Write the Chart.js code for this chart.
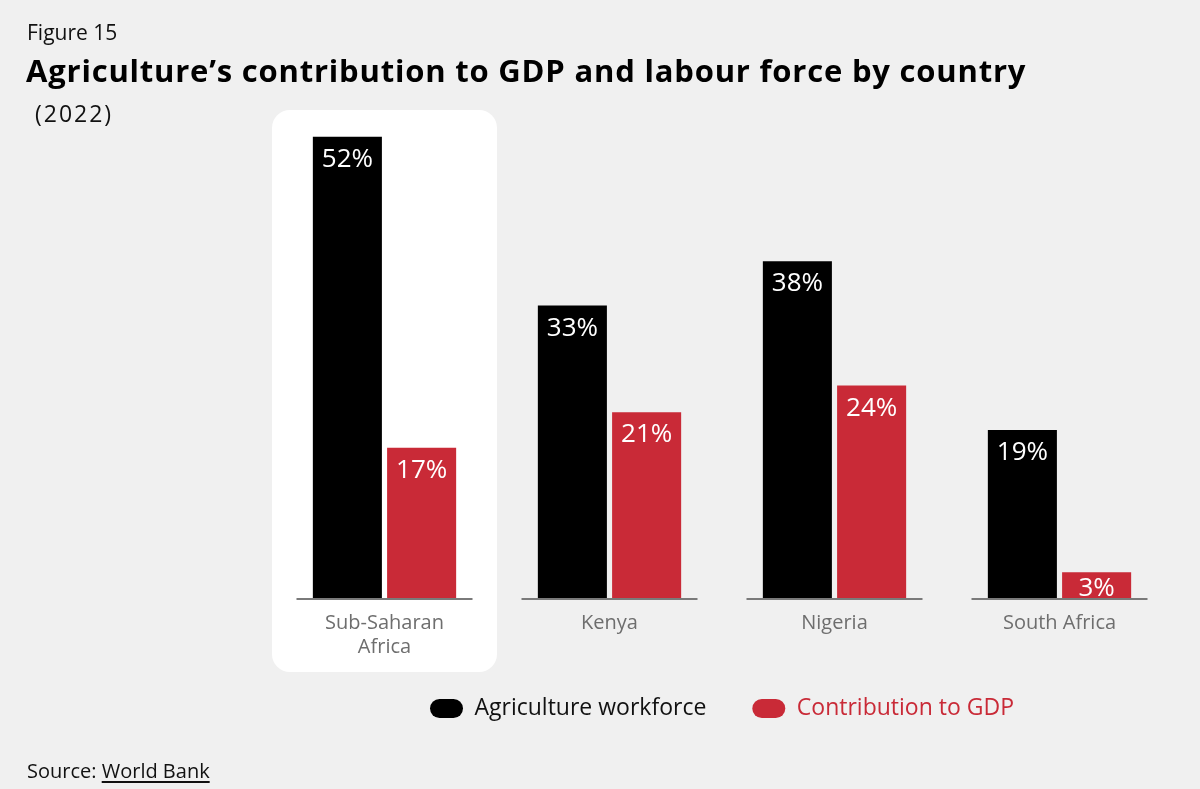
<!DOCTYPE html>
<html>
<head>
<meta charset="utf-8">
<script src="https://cdn.jsdelivr.net/npm/chart.js@4"></script>
<style>
  html, body { margin: 0; padding: 0; background: #f0f0f0; }
  body { width: 1200px; height: 789px; position: relative; overflow: hidden; font-family: "Open Sans", sans-serif; }
  #wrap { position: absolute; left: 0; top: 0; width: 1200px; height: 789px; }
  .fig { position: absolute; left: 27px; top: 18px; font-size: 21px; color: #111; }
  .title { position: absolute; left: 26px; top: 49px; font-size: 31px; font-weight: 700; color: #000; letter-spacing: 0.8px; }
  .sub { position: absolute; left: 27px; top: 97px; font-size: 23px; color: #111; letter-spacing: 2px; }
  .source { position: absolute; left: 27px; top: 757px; font-size: 20px; color: #111; }
  .source u { text-underline-offset: 3px; }
</style>
</head>
<body>
<div id="wrap"><canvas id="agriChart"></canvas></div>
<div class="fig">Figure 15</div>
<div class="title">Agriculture’s contribution to GDP and labour force by country</div>
<div class="sub">&nbsp;(2022)</div>
<div class="source">Source: <u>World Bank</u></div>
<script>
var countries = [['Sub-Saharan', 'Africa'], 'Kenya', 'Nigeria', 'South Africa'];
var workforce = [52, 33, 38, 19];
var gdpShare = [17, 21, 24, 3];
var seriesNames = ['Agriculture workforce', 'Contribution to GDP'];

var BLACK = '#000000';
var RED = '#c92a37';

// white rounded panel behind the first category
var highlightBox = {
    id: 'highlightBox',
    beforeDraw: function(chart) {
        var c = chart.ctx, x = chart.scales.x, area = chart.chartArea;
        var step = (area.right - area.left) / countries.length;
        var cx = x.getPixelForValue(0);
        var left = cx - step / 2, w = step, top = area.top, h = 672 - area.top, r = 18;
        c.save();
        c.fillStyle = '#ffffff';
        c.beginPath();
        c.roundRect(left, top, w, h, r);
        c.fill();
        c.restore();
    }
};

// let the two-line tick label run into the legend's top padding
var tickRoom = {
    id: 'tickRoom',
    afterLayout: function(chart) {
        var x = chart.scales.x;
        x.bottom = x.top + 80;
    }
};

// short baseline under each group
var baseSegments = {
    id: 'baseSegments',
    afterDatasetsDraw: function(chart) {
        var c = chart.ctx, x = chart.scales.x, y = chart.scales.y;
        var base = y.getPixelForValue(0);
        c.save();
        c.strokeStyle = '#7a7a7a';
        c.lineWidth = 2;
        for (var i = 0; i < countries.length; i++) {
            var cx = x.getPixelForValue(i);
            c.beginPath();
            c.moveTo(cx - 88, base);
            c.lineTo(cx + 88, base);
            c.stroke();
        }
        c.restore();
    }
};

// value labels inside the top of the bars
var valueLabels = {
    id: 'valueLabels',
    afterDatasetsDraw: function(chart) {
        var c = chart.ctx;
        var base = chart.scales.y.getPixelForValue(0);
        c.save();
        c.fillStyle = '#ffffff';
        c.font = '500 26px "Open Sans"';
        c.textAlign = 'center';
        c.textBaseline = 'alphabetic';
        chart.data.datasets.forEach(function(ds, di) {
            chart.getDatasetMeta(di).data.forEach(function(bar, i) {
                var yb = Math.min(bar.y + 30, base - 3);
                c.fillText(ds.data[i] + '%', bar.x, yb);
            });
        });
        c.restore();
    }
};

var ctx = document.getElementById('agriChart').getContext('2d');

var agriChart = new Chart(ctx, {
    type: 'bar',
    data: {
        labels: countries,
        datasets: [{
            label: seriesNames[0],
            data: workforce,
            backgroundColor: BLACK,
            borderWidth: 0
        },
            {
                label: seriesNames[1],
                data: gdpShare,
                backgroundColor: RED,
                borderWidth: 0
            }]
    },
    options: {
        responsive: true,
        maintainAspectRatio: false,
        animation: false,
        categoryPercentage: 0.66,
        barPercentage: 0.93,
        layout: {
            padding: { left: 272, right: 28, top: 110, bottom: 59 }
        },
        plugins: {
            legend: {
                position: 'bottom',
                labels: {
                    boxWidth: 33,
                    boxHeight: 19,
                    useBorderRadius: true,
                    borderRadius: 9.5,
                    padding: 46,
                    font: { family: 'Open Sans', size: 23 },
                    generateLabels: function(chart) {
                        return chart.data.datasets.map(function(ds, i) {
                            return {
                                text: ds.label,
                                fillStyle: ds.backgroundColor,
                                strokeStyle: ds.backgroundColor,
                                lineWidth: 0,
                                fontColor: i === 0 ? '#111111' : RED,
                                borderRadius: 9.5,
                                datasetIndex: i
                            };
                        });
                    }
                }
            },
            tooltip: { enabled: false }
        },
        scales: {
            x: {
                grid: { display: false },
                border: { display: false },
                ticks: {
                    color: '#6e6e6e',
                    font: { family: 'Open Sans', size: 20 },
                    padding: 4
                },
                afterFit: function(scale) {
                    scale.height = 52;
                }
            },
            y: {
                display: false,
                min: 0,
                max: 55
            }
        }
    },
    plugins: [highlightBox, tickRoom, baseSegments, valueLabels]
});
</script>
</body>
</html>
